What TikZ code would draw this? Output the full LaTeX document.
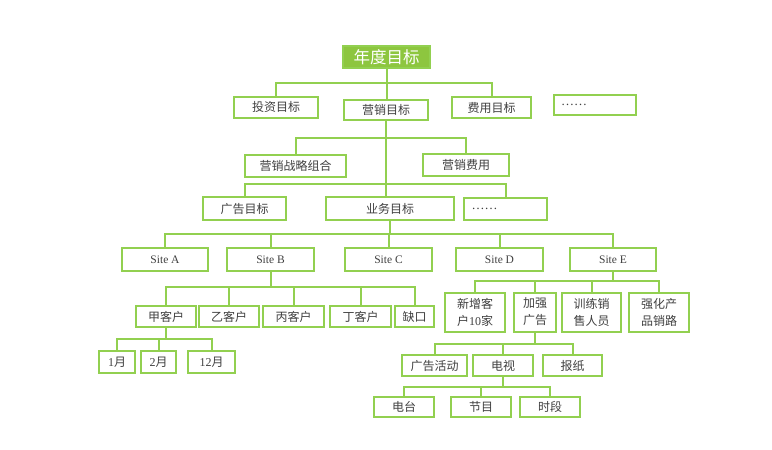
\documentclass[tikz,border=0pt]{standalone}
\usepackage{fontspec}
\setmainfont{Liberation Serif}
\newfontfamily\cjk{Noto Sans CJK SC}
\usepackage{tikz}
\definecolor{goalGreen}{RGB}{146,208,80}
\definecolor{goalGreenFill}{RGB}{141,198,63}
\definecolor{goalText}{RGB}{64,64,64}
\tikzset{
  goal/.style 2 args={draw=goalGreen, line width=2pt, fill=white, text=goalText, inner sep=0pt,
    minimum width=#1, minimum height=#2, align=center, font=\cjk\fontsize{12}{17}\selectfont},
  sitebox/.style={font=\rmfamily\fontsize{11.5}{13}\selectfont},
  dotsbox/.style={font=\rmfamily\fontsize{13}{13}\selectfont, text width=68pt, align=left},
  link/.style={goalGreen, line width=2pt},
}

\begin{document}
\begin{tikzpicture}[x=1pt,y=-1pt]
\useasboundingbox (0,0) rectangle (772,450);
\node[goal={87pt}{22pt}, fill=goalGreenFill, text=white, font=\cjk\fontsize{16.5}{18}\selectfont] (root) at (386.5,57) {年度目标};
\node[goal={84pt}{21pt}] (invest) at (276,107) {投资目标};
\node[goal={84pt}{20pt}] (market) at (386,109.5) {营销目标};
\node[goal={79pt}{21pt}] (cost) at (491.5,107.5) {费用目标};
\node[goal={82pt}{20pt}, dotsbox] (moreA) at (595,105) {……};
\node[goal={101pt}{22pt}] (mix) at (295.5,166) {营销战略组合};
\node[goal={86pt}{22pt}] (mcost) at (466,165) {营销费用};
\node[goal={83pt}{23pt}] (adgoal) at (244.5,208.5) {广告目标};
\node[goal={128pt}{23pt}] (biz) at (390,208.5) {业务目标};
\node[goal={83pt}{22pt}, dotsbox] (moreB) at (505.5,209) {……};
\node[goal={86pt}{23pt}, sitebox] (siteA) at (165,259.5) {Site A};
\node[goal={87pt}{23pt}, sitebox] (siteB) at (270.5,259.5) {Site B};
\node[goal={87pt}{23pt}, sitebox] (siteC) at (388.5,259.5) {Site C};
\node[goal={87pt}{23pt}, sitebox] (siteD) at (499.5,259.5) {Site D};
\node[goal={86pt}{23pt}, sitebox] (siteE) at (613,259.5) {Site E};
\node[goal={60pt}{21pt}] (custJia) at (166,316.5) {甲客户};
\node[goal={60pt}{21pt}] (custYi) at (229,316.5) {乙客户};
\node[goal={61pt}{21pt}] (custBing) at (293.5,316.5) {丙客户};
\node[goal={61pt}{21pt}] (custDing) at (360.5,316.5) {丁客户};
\node[goal={39pt}{21pt}] (gap) at (414.5,316.5) {缺口};
\node[goal={36pt}{22pt}] (jan) at (117,362) {{\rmfamily 1}月};
\node[goal={35pt}{22pt}] (feb) at (158.5,362) {{\rmfamily 2}月};
\node[goal={47pt}{22pt}] (dec) at (211.5,362) {{\rmfamily 12}月};
\node[goal={60pt}{39pt}] (newcust) at (475,312) {新增客\\户{\rmfamily 10}家};
\node[goal={42pt}{39pt}] (moread) at (535,312) {加强\\广告};
\node[goal={59pt}{39pt}] (train) at (591.5,312) {训练销\\售人员};
\node[goal={60pt}{39pt}] (channel) at (659,312) {强化产\\品销路};
\node[goal={65pt}{21pt}] (campaign) at (434.5,365.5) {广告活动};
\node[goal={60pt}{21pt}] (tv) at (503,365.5) {电视};
\node[goal={59pt}{21pt}] (paper) at (572.5,365.5) {报纸};
\node[goal={60pt}{20pt}] (station) at (404,407) {电台};
\node[goal={60pt}{20pt}] (program) at (481,407) {节目};
\node[goal={60pt}{20pt}] (slot) at (550,407) {时段};

\coordinate (busTop) at (0,83);
\coordinate (busMix) at (0,138);
\coordinate (busBiz) at (0,184);
\coordinate (busSite) at (0,234);
\coordinate (busCust) at (0,287);
\coordinate (busMonth) at (0,339);
\coordinate (busE) at (0,281);
\coordinate (busAd) at (0,344);
\coordinate (busTv) at (0,387);

\draw[link] (root.south) -- (root.south |- market.north);
\draw[link] (root.south |- busTop) -| (invest.north);
\draw[link] (root.south |- busTop) -| (cost.north);
\draw[link] (market.south) -- (market.south |- biz.north);
\draw[link] (market.south |- busMix) -| (mix.north);
\draw[link] (market.south |- busMix) -| (mcost.north);
\draw[link] (market.south |- busBiz) -| (adgoal.north);
\draw[link] (market.south |- busBiz) -| (moreB.north);
\draw[link] (biz.south) -- (biz.south |- busSite) -| (siteA.north);
\draw[link] (biz.south |- busSite) -| (siteB.north);
\draw[link] (biz.south |- busSite) -| (siteC.north);
\draw[link] (biz.south |- busSite) -| (siteD.north);
\draw[link] (biz.south |- busSite) -| (siteE.north);
\draw[link] (siteB.south) -- (siteB.south |- busCust) -| (custJia.north);
\draw[link] (siteB.south |- busCust) -| (custYi.north);
\draw[link] (siteB.south |- busCust) -| (custBing.north);
\draw[link] (siteB.south |- busCust) -| (custDing.north);
\draw[link] (siteB.south |- busCust) -| (gap.north);
\draw[link] (custJia.south) -- (custJia.south |- busMonth) -| (jan.north);
\draw[link] (custJia.south |- busMonth) -| (feb.north);
\draw[link] (custJia.south |- busMonth) -| (dec.north);
\draw[link] (siteE.south) -- (siteE.south |- busE) -| (newcust.north);
\draw[link] (siteE.south |- busE) -| (moread.north);
\draw[link] (siteE.south |- busE) -| (train.north);
\draw[link] (siteE.south |- busE) -| (channel.north);
\draw[link] (moread.south) -- (moread.south |- busAd) -| (campaign.north);
\draw[link] (moread.south |- busAd) -| (tv.north);
\draw[link] (moread.south |- busAd) -| (paper.north);
\draw[link] (tv.south) -- (tv.south |- busTv) -| (station.north);
\draw[link] (tv.south |- busTv) -| (program.north);
\draw[link] (tv.south |- busTv) -| (slot.north);
\end{tikzpicture}
\end{document}
